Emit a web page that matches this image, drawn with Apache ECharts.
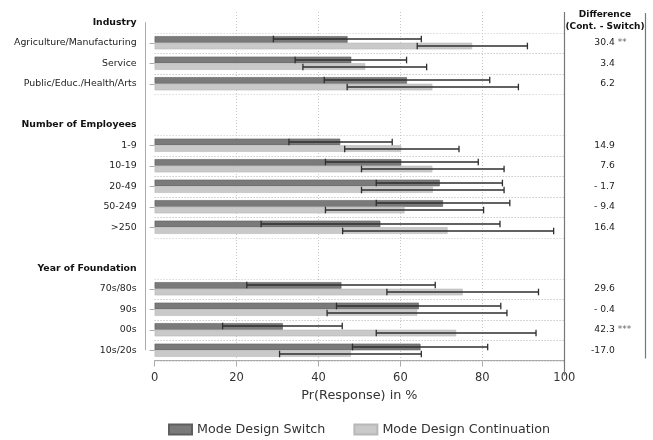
<!DOCTYPE html>
<html>
<head>
<meta charset="utf-8">
<script src="https://cdn.jsdelivr.net/npm/echarts@6/dist/echarts.min.js"></script>
<style>
  html, body { margin: 0; padding: 0; background: #fff; }
  #chart { width: 653px; height: 440px; }
</style>
</head>
<body>
<div id="chart"></div>
<script>
// Rows of the plot, top to bottom (group headers and spacer rows included)
const rows = [
  'Industry', 'Agriculture/Manufacturing', 'Service', 'Public/Educ./Health/Arts', ' ',
  'Number of Employees', '1-9', '10-19', '20-49', '50-249', '>250', '  ',
  'Year of Foundation', '70s/80s', '90s', '00s', '10s/20s'
];
const headers = ['Industry', 'Number of Employees', 'Year of Foundation'];

// Predicted response probabilities (%) with 95% confidence bounds
const switchMean = [null, 47.1, 48.0, 61.6, null, null, 45.3, 60.2, 69.6, 70.4, 55.1, null, null, 45.6, 64.5, 31.3, 64.9];
const switchLow  = [null, 29.0, 34.3, 41.4, null, null, 32.8, 41.7, 54.1, 54.1, 26.0, null, null, 22.5, 44.4, 16.6, 48.3];
const switchHigh = [null, 65.1, 61.5, 81.8, null, null, 58.0, 79.0, 84.9, 86.7, 84.3, null, null, 68.5, 84.5, 45.8, 81.3];
const contMean   = [null, 77.5, 51.4, 67.8, null, null, 60.2, 67.8, 67.9, 61.0, 71.5, null, null, 75.2, 64.1, 73.6, 47.9];
const contLow    = [null, 64.1, 36.2, 47.0, null, null, 46.4, 50.5, 50.5, 41.7, 45.9, null, null, 56.7, 42.1, 54.1, 30.5];
const contHigh   = [null, 91.0, 66.4, 88.8, null, null, 74.3, 85.3, 85.3, 80.3, 97.4, null, null, 93.7, 86.0, 93.1, 65.1];
// Significance stars of the difference (Cont. - Switch)
const significance = ['', '**', '', '', '', '', '', '', '', '', '', '', '', '', '', '***', ''];
const xTicks = [0, 20, 40, 60, 80, 100];

const FONT = 'DejaVu Sans';
const BAR_W = 6.6;
const CAP = 3.3;
const seriesNames = ['Mode Design Switch', 'Mode Design Continuation'];

const isItem = i => switchMean[i] != null;

function fmtDiff(d) {
  const a = Math.abs(d).toFixed(1);
  if (d >= 0) return a;
  return Math.abs(d) < 10 ? '- ' + a : '-' + a;
}

function errorData(low, high) {
  const out = [];
  rows.forEach((r, i) => { if (low[i] != null) out.push([i, low[i], high[i]]); });
  return out;
}

function errorRenderer(offset) {
  return function (params, api) {
    const row = api.value(0);
    const a = api.coord([api.value(1), row]);
    const b = api.coord([api.value(2), row]);
    const y = Math.round(a[1] + offset);
    const st = { stroke: '#2e2e2e', lineWidth: 1.3 };
    return {
      type: 'group',
      children: [
        { type: 'line', shape: { x1: a[0], y1: y, x2: b[0], y2: y }, style: st },
        { type: 'line', shape: { x1: a[0], y1: y - CAP, x2: a[0], y2: y + CAP }, style: st },
        { type: 'line', shape: { x1: b[0], y1: y - CAP, x2: b[0], y2: y + CAP }, style: st }
      ]
    };
  };
}

const chart = echarts.init(document.getElementById('chart'), null, { renderer: 'canvas' });

const option = {
  backgroundColor: '#fff',
  animation: false,
  textStyle: { fontFamily: FONT },
  grid: { left: 154.6, right: 88.7, top: 12, height: 348.5 },
  legend: {
    data: seriesNames,
    left: 163,
    top: 418,
    icon: 'rect',
    itemWidth: 23,
    itemHeight: 10,
    itemGap: 28,
    textStyle: { fontFamily: FONT, fontSize: 12.7, color: '#333' }
  },
  graphic: [
    { type: 'text', x: 605, y: 15, style: { text: 'Difference', fontFamily: FONT, fontSize: 9, fontWeight: 'bold', fill: '#111', align: 'center', verticalAlign: 'middle' } },
    { type: 'text', x: 605, y: 26.5, style: { text: '(Cont. - Switch)', fontFamily: FONT, fontSize: 9, fontWeight: 'bold', fill: '#111', align: 'center', verticalAlign: 'middle' } }
  ],
  xAxis: {
    type: 'value',
    min: xTicks[0],
    max: xTicks[xTicks.length - 1],
    interval: xTicks[1] - xTicks[0],
    name: 'Pr(Response) in %',
    nameLocation: 'middle',
    nameGap: 29,
    nameTextStyle: { fontFamily: FONT, fontSize: 12.8, color: '#333' },
    axisLine: { show: true, lineStyle: { color: '#aaa', width: 1 } },
    axisTick: { show: true, length: 6, lineStyle: { color: '#aaa' } },
    axisLabel: { fontFamily: FONT, fontSize: 11.5, color: '#333', margin: 12 },
    splitLine: {
      show: true, showMinLine: false, showMaxLine: false,
      lineStyle: { type: [1, 2], color: '#c8c8c8', width: 1 }
    }
  },
  yAxis: {
    type: 'category',
    data: rows,
    inverse: true,
    offset: 10,
    axisLine: { show: false },
    axisTick: {
      show: true, length: 5, alignWithLabel: true,
      interval: (i) => isItem(i),
      lineStyle: { color: '#aaa' }
    },
    axisLabel: {
      interval: 0,
      margin: 8,
      fontFamily: FONT,
      fontSize: 9.4,
      color: '#222',
      formatter: v => headers.includes(v) ? '{h|' + v + '}' : v,
      rich: { h: { fontFamily: FONT, fontSize: 9.3, fontWeight: 'bold', color: '#111' } }
    },
    splitLine: { show: false }
  },
  series: [
    {
      name: seriesNames[0],
      type: 'bar',
      data: switchMean,
      barWidth: BAR_W,
      barGap: '0%',
      itemStyle: { color: '#7a7a7a', borderColor: '#5f5f5f', borderWidth: 0.6 },
      z: 3
    },
    {
      name: seriesNames[1],
      type: 'bar',
      data: contMean,
      barWidth: BAR_W,
      barGap: '0%',
      itemStyle: { color: '#c9c9c9', borderColor: '#b8b8b8', borderWidth: 0.6 },
      z: 3
    },
    {
      type: 'custom',
      name: 'switchCI',
      data: errorData(switchLow, switchHigh),
      encode: { y: 0, x: [1, 2] },
      renderItem: errorRenderer(-BAR_W / 2),
      z: 6,
      silent: true
    },
    {
      type: 'custom',
      name: 'contCI',
      data: errorData(contLow, contHigh),
      encode: { y: 0, x: [1, 2] },
      renderItem: errorRenderer(BAR_W / 2),
      z: 6,
      silent: true
    },
    {
      // frame lines, row separators, y axis line and the difference column
      type: 'custom',
      name: 'frame',
      data: [[0, 0]],
      encode: { x: 0, y: 1 },
      z: 1,
      silent: true,
      renderItem: function (params, api) {
        const cs = params.coordSys;
        const x0 = api.coord([0, 0])[0];
        const x100 = api.coord([100, 0])[0];
        const band = api.size([0, 1])[1];
        const children = [];
        const dotted = { stroke: '#c8c8c8', lineWidth: 1, lineDash: [1, 2] };
        rows.forEach((r, i) => {
          if (!isItem(i)) return;
          const y = api.coord([0, i])[1];
          [y - band / 2, y + band / 2].forEach(yy => {
            const py = Math.round(yy) + 0.5;
            children.push({ type: 'line', shape: { x1: x0, y1: py, x2: x100, y2: py }, style: dotted });
          });
          const d = contMean[i] - switchMean[i];
          children.push({ type: 'text', x: x100 + 50.5, y: y, style: {
            text: fmtDiff(d), fontFamily: FONT, fontSize: 9.2, fill: '#222', align: 'right', verticalAlign: 'middle' } });
          if (significance[i]) {
            children.push({ type: 'text', x: x100 + 53.5, y: y, style: {
              text: significance[i], fontFamily: FONT, fontSize: 9, fill: '#666', align: 'left', verticalAlign: 'middle' } });
          }
        });
        // y axis line from first to last row
        const ax = Math.round(x0 - 10) + 0.5;
        const yTop = api.coord([0, 0])[1];
        const yBot = api.coord([0, rows.length - 1])[1];
        children.push({ type: 'line', shape: { x1: ax, y1: yTop, x2: ax, y2: yBot }, style: { stroke: '#aaa', lineWidth: 1 } });
        // right frame of the plot and of the difference column
        const rx = Math.round(x100) + 0.5;
        children.push({ type: 'line', shape: { x1: rx, y1: cs.y, x2: rx, y2: cs.y + cs.height + 15 }, style: { stroke: '#777', lineWidth: 1.2 } });
        const rx2 = Math.round(x100 + 81) + 0.5;
        children.push({ type: 'line', shape: { x1: rx2, y1: cs.y + 1, x2: rx2, y2: cs.y + cs.height - 2 }, style: { stroke: '#777', lineWidth: 1.2 } });
        return { type: 'group', children: children };
      }
    }
  ]
};

chart.setOption(option);
</script>
</body>
</html>
